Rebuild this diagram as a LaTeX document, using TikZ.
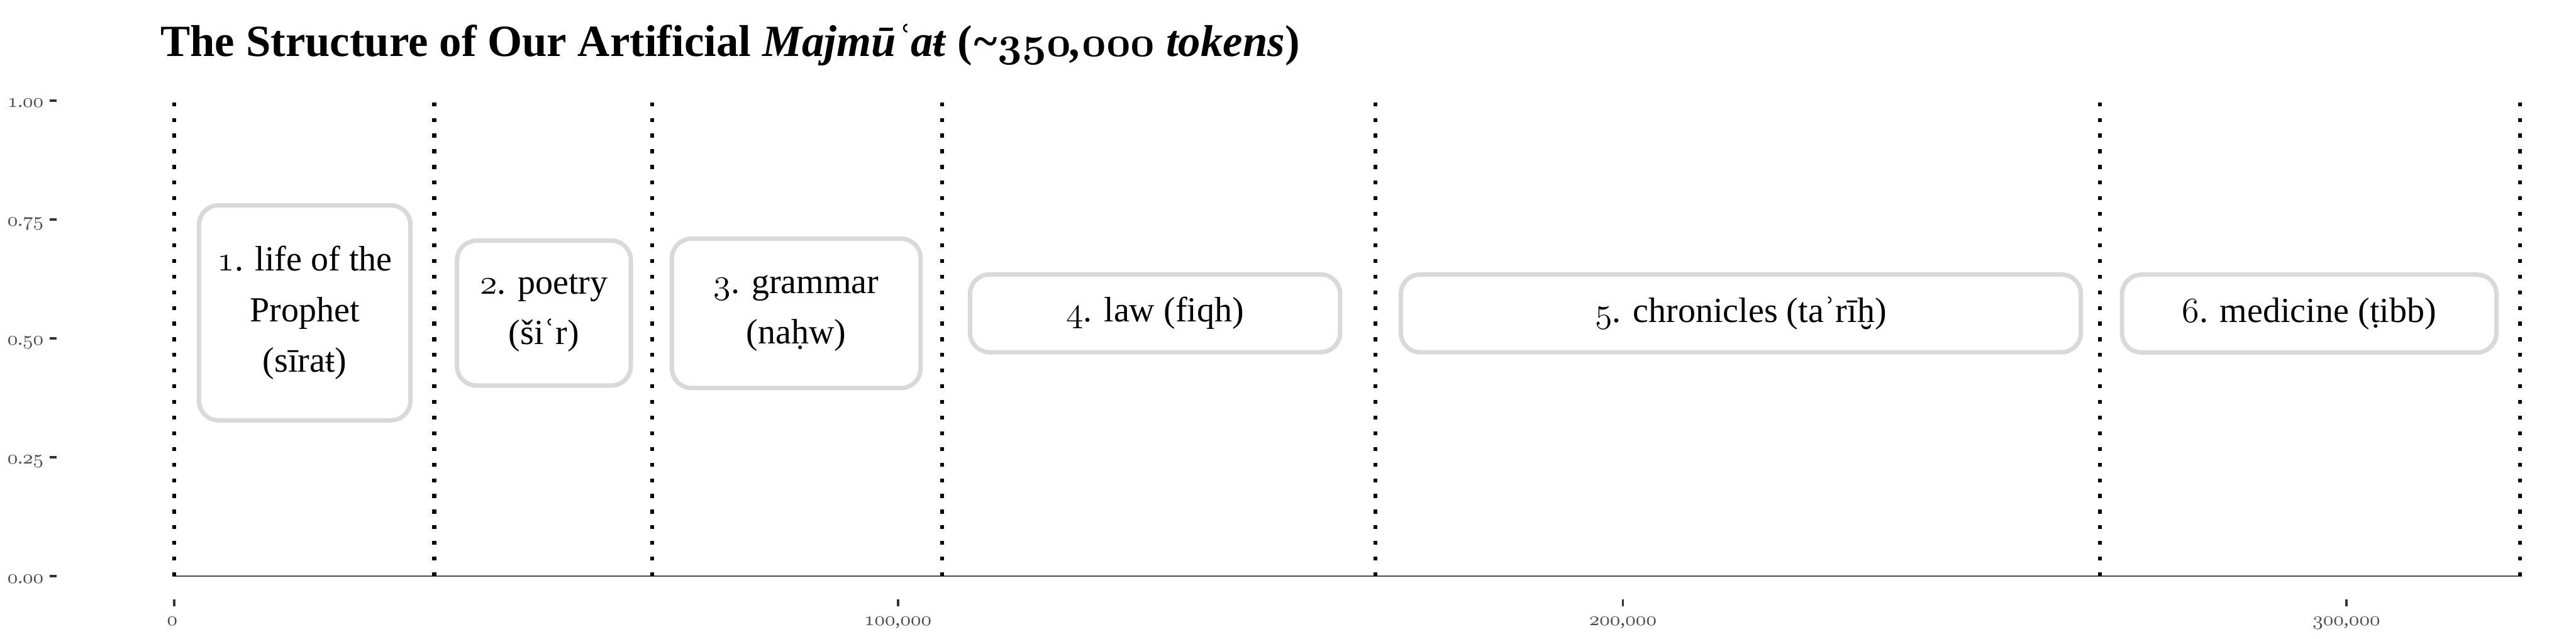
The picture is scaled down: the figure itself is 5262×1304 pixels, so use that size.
\documentclass[tikz,border=0pt]{standalone}
\usepackage{fontspec}
\setmainfont{Liberation Serif}
\definecolor{boxgrey}{HTML}{D9D9D9}
\definecolor{axtext}{HTML}{4D4D4D}
\definecolor{axtick}{HTML}{333333}
\newcommand\osn[1]{{\usefont{OML}{lmm}{m}{it}#1}}
\newcommand\osb[1]{{\usefont{OML}{cmm}{b}{it}#1}}
\tikzset{
  dotline/.style={line width=1.6pt, dash pattern=on 1.6pt off 4.8pt, black},
  lbl/.style={draw=boxgrey, line width=1.8pt, rounded corners=8pt, fill=white,
    align=center, inner sep=0pt, font=\fontsize{14.4}{20.6}\selectfont},
  ytl/.style={anchor=base east, inner sep=0pt, text=axtext, font=\fontsize{8}{9}\selectfont},
  xtl/.style={anchor=base, inner sep=0pt, text=axtext, font=\fontsize{8.2}{9}\selectfont},
  tickm/.style={line width=1pt, axtick},
}
\begin{document}
\begin{tikzpicture}[x=0.2pt, y=-0.2pt]
\useasboundingbox (0,0) rectangle (5262,1304);
% title
\node[anchor=base west, inner sep=0pt, font=\fontsize{18.2}{22}\selectfont\bfseries] (title) at (327,115)
  {The Structure of Our Artificial \textit{Majmūʿaŧ} (\textit{\textasciitilde\osb{350},\osb{000} tokens})};
% y axis ticks
\foreach \v/\y in {a/205, b/448, c/691, d/934, e/1177}{
  \coordinate (yt\v L) at (102,\y);
  \coordinate (yt\v R) at (116,\y);
  \draw[tickm] (yt\v L) -- (yt\v R);
}
\node[ytl] (yla) at (90,219) {\osn{1}.\osn{00}};
\node[ytl] (ylb) at (90,462) {\osn{0}.\osn{75}};
\node[ytl] (ylc) at (90,705) {\osn{0}.\osn{50}};
\node[ytl] (yld) at (90,948) {\osn{0}.\osn{25}};
\node[ytl] (yle) at (90,1191) {\osn{0}.\osn{00}};
% x axis ticks
\foreach \v/\x in {a/356, b/1834, c/3315, d/4793}{
  \coordinate (xt\v T) at (\x,1224);
  \coordinate (xt\v B) at (\x,1238);
  \draw[tickm] (xt\v T) -- (xt\v B);
}
\node[xtl] (xla) at (352,1277) {\osn{0}};
\node[xtl] (xlb) at (1834,1277) {\osn{100},\osn{000}};
\node[xtl] (xlc) at (3315,1277) {\osn{200},\osn{000}};
\node[xtl] (xld) at (4793,1277) {\osn{300},\osn{000}};
% baseline
\coordinate (axl) at (352,1177);
\coordinate (axr) at (5152,1177);
\draw[line width=0.45pt, color=axtext] (axl) -- (axr);
% dotted separators
\foreach \i/\x in {1/356, 2/887, 3/1332, 4/1924, 5/2810, 6/4289, 7/5148}{
  \coordinate (b\i) at (\x,1177);
  \coordinate (t\i) at (\x,205);
  \draw[dotline] (b\i) -- (t\i);
}
% labels
\node[lbl, minimum width=86.4pt, minimum height=87.8pt] (box1) at (622.5,639)
  {\osn{1}. life of the\\Prophet\\(sīraŧ)};
\node[lbl, minimum width=71.0pt, minimum height=59.2pt] (box2) at (1111,639.5)
  {\osn{2}. poetry\\(šiʿr)};
\node[lbl, minimum width=101.6pt, minimum height=61.0pt] (box3) at (1626.5,640)
  {\osn{3}. grammar\\(naḥw)};
\node[lbl, minimum width=151.2pt, minimum height=31.8pt] (box4) at (2359.5,640)
  {\osn{4}. law (fiqh)};
\node[lbl, minimum width=277.8pt, minimum height=31.8pt] (box5) at (3556,640)
  {\osn{5}. chronicles (taʾrīḫ)};
\node[lbl, minimum width=153.0pt, minimum height=31.8pt] (box6) at (4717,640.5)
  {\osn{6}. medicine (ṭibb)};
\end{tikzpicture}
\end{document}
